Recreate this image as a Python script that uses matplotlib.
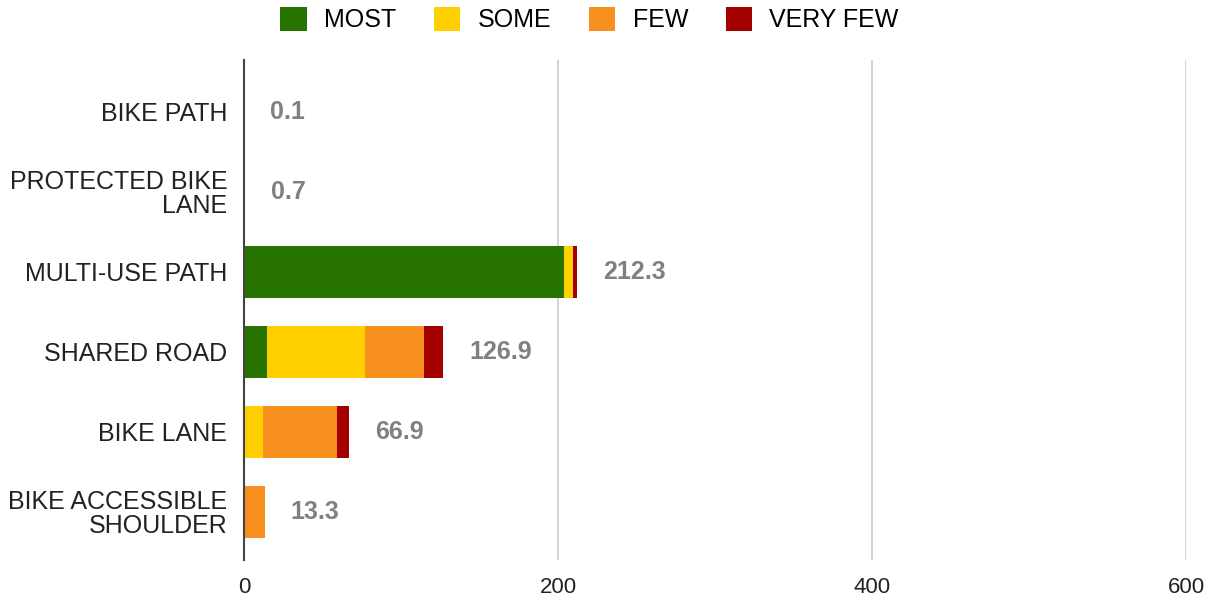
import numpy as np
import matplotlib.pyplot as plt

categories = ['BIKE PATH', 'PROTECTED BIKE\nLANE', 'MULTI-USE PATH',
              'SHARED ROAD', 'BIKE LANE', 'BIKE ACCESSIBLE\nSHOULDER']
most = [0.1, 0.7, 204.0, 14.4, 0.0, 0.0]
some = [0.0, 0.0, 5.2, 62.7, 11.9, 0.0]
few = [0.0, 0.0, 0.3, 37.8, 47.5, 13.3]
very_few = [0.0, 0.0, 2.8, 12.0, 7.5, 0.0]
totals = [0.1, 0.7, 212.3, 126.9, 66.9, 13.3]
series = [('MOST', most, '#267300'), ('SOME', some, '#FFD000'),
          ('FEW', few, '#F7901E'), ('VERY FEW', very_few, '#A50000')]

plt.rcParams['font.family'] = ['Liberation Sans', 'DejaVu Sans']

fig = plt.figure(figsize=(12.08, 6.06), dpi=100)
ax = fig.add_axes([0.202, 0.076, 0.78, 0.825])

y = np.arange(len(categories))
left = np.zeros(len(categories))
for name, vals, color in series:
    ax.barh(y, vals, left=left, height=0.64, color=color, label=name, zorder=3)
    left += np.array(vals)

for yi, tot in zip(y, totals):
    ax.text(tot + 16.5, yi, f'{tot:.1f}', va='center', ha='left',
            fontsize=18, fontweight='bold', color='#808080')

ax.set_xlim(0, 600)
ax.set_ylim(5.6, -0.65)
ax.set_yticks(y)
ax.set_yticklabels(categories, fontsize=18, color='#222222', linespacing=1.0)
ax.set_xticks([0, 200, 400, 600])
ax.set_xticklabels(['0', '200', '400', '600'], fontsize=16, color='#222222')
ax.tick_params(axis='y', length=0, pad=12)
ax.tick_params(axis='x', length=0, pad=12)
ax.grid(axis='x', color='#cccccc', linewidth=1.2, zorder=0)
for s in ['top', 'right', 'bottom']:
    ax.spines[s].set_visible(False)
ax.spines['left'].set_color('#444444')
ax.spines['left'].set_linewidth(1.5)
ax.spines['left'].set_zorder(4)

fig.legend(loc='upper center', bbox_to_anchor=(0.488, 1.025), ncol=4, frameon=False,
           fontsize=18, handlelength=1.05, handleheight=1.05, columnspacing=1.5,
           handletextpad=0.7)

fig.savefig('out.png', dpi=100)
